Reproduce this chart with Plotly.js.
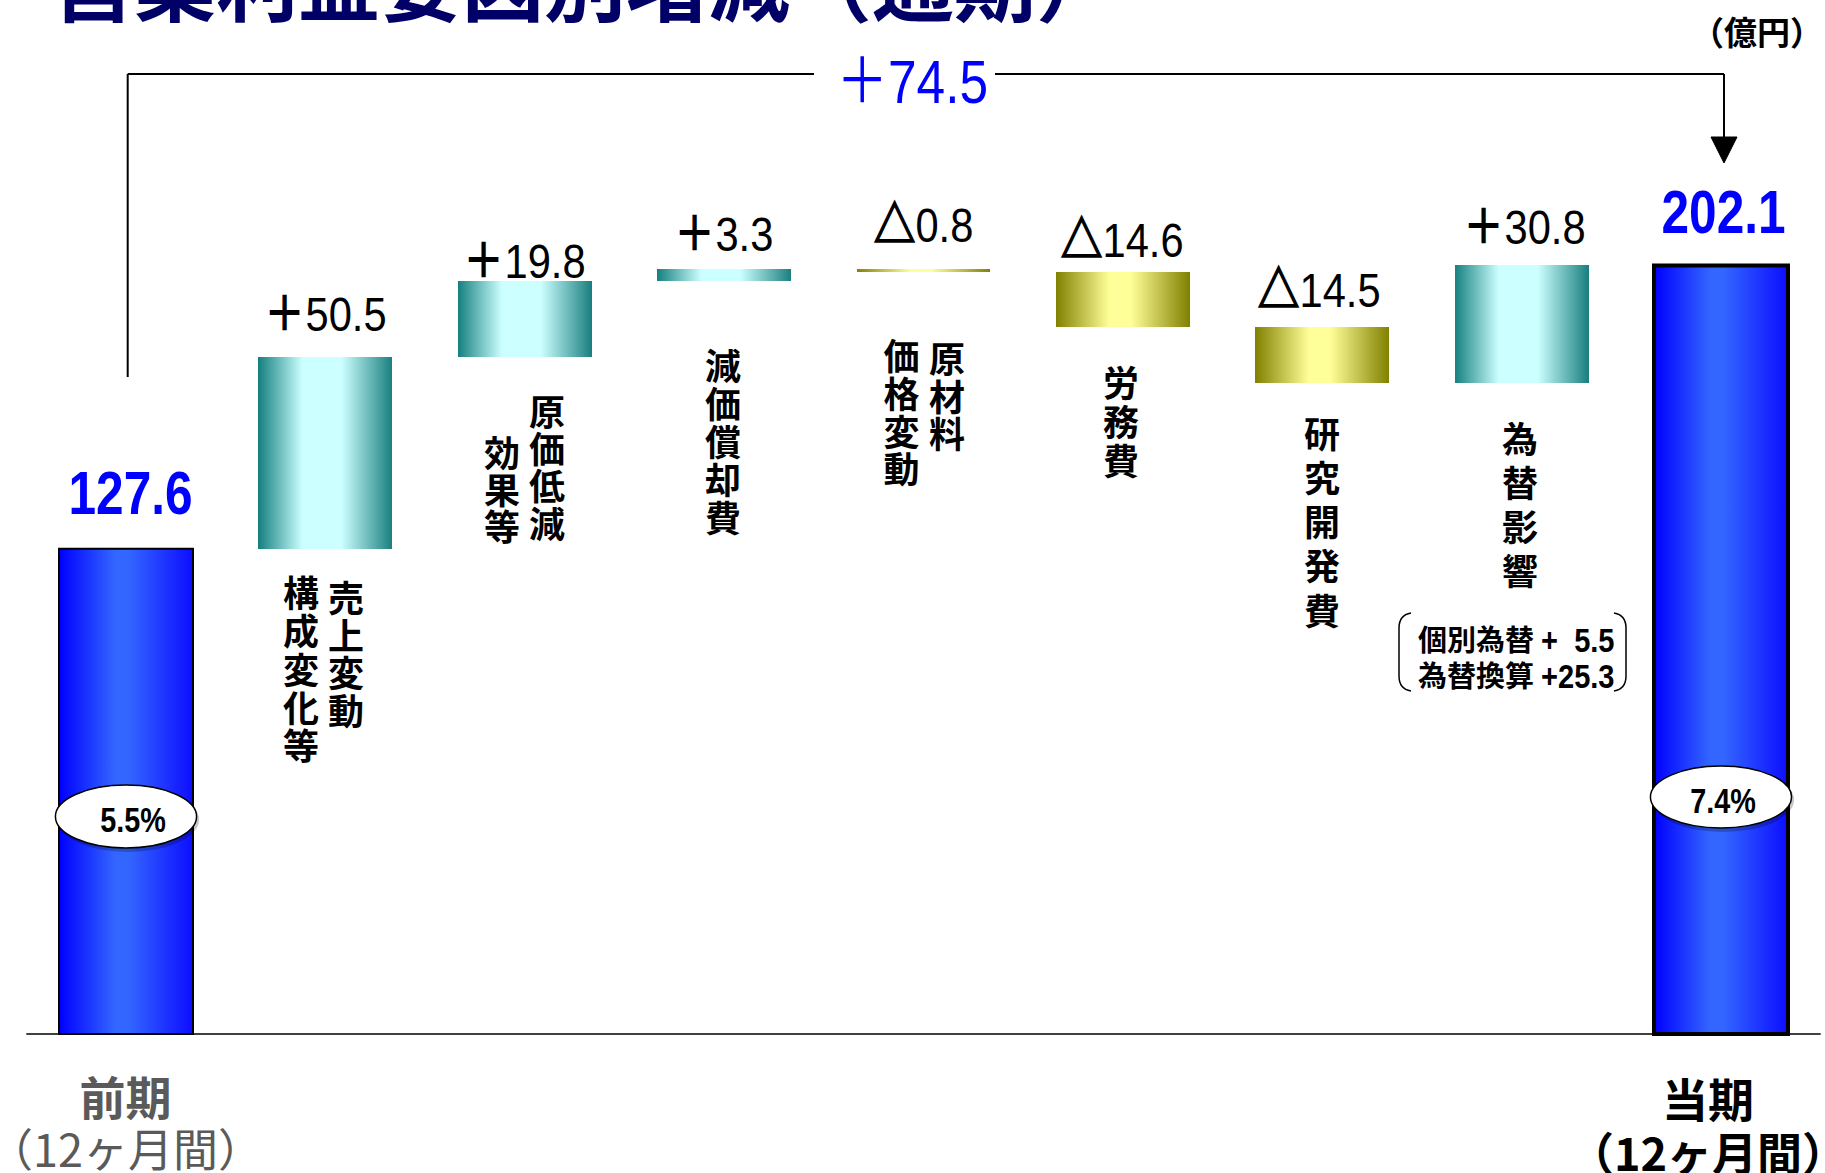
<!DOCTYPE html>
<html>
<head>
<meta charset="utf-8">
<script src="https://cdn.plot.ly/plotly-3.0.1.min.js"></script>
<style>
  html, body { margin: 0; padding: 0; background: #ffffff; }
  #chart { width: 1825px; height: 1173px; }
</style>
</head>
<body>
<div id="chart"></div>
<script>
// ---------------- DATA ----------------
const chartTitle = '営業利益要因別増減（通期）';
const unitLabel = '（億円）';
const categories = ['前期', '売上変動構成変化等', '原価低減効果等', '減価償却費', '原材料価格変動', '労務費', '研究開発費', '為替影響', '当期'];
const categoryColumns = [[], ['売上変動', '構成変化等'], ['原価低減', '効果等'], ['減価償却費'], ['原材料', '価格変動'], ['労務費'], ['研究開発費'], ['為替影響'], []];
const startValue = 127.6;
const deltas = [50.5, 19.8, 3.3, -0.8, -14.6, -14.5, 30.8];
const endValue = 202.1;
const marginRates = [5.5, 7.4];
const periodNames = ['前期', '当期'];
const periodSpan = '（12ヶ月間）';
const fxNames = ['個別為替', '為替換算'];
const fxValues = [5.5, 25.3];

// ---------------- LAYOUT CONSTANTS ----------------
const W = 1825, H = 1173;
const X0_PX = 126, STEP_PX = 199.375;      // bar 0 centre, spacing
const BASE_PX = 1034, PX_PER_UNIT = 3.803;  // zero line, vertical scale
const BAR_W = 0.672;
const ppx = p => p / W;          // pixel -> paper x
const ppy = p => 1 - p / H;      // pixel -> paper y
const dx = p => (p - X0_PX) / STEP_PX; // pixel -> data x

const NUM = '"Liberation Sans", Arimo, "Noto Sans CJK JP", sans-serif';
const CJK = '"Noto Sans CJK JP", "Noto Sans CJK SC", sans-serif';
const COL_FONT = 36;  // vertical category label font size

const valueLabelLift = [56, 43, 20, 35, 44, 32, 37, 38, 54];
const valueLabelNudge = [4.5, 0, -1, -1, 0, -1, -3, 2, 2];
// vertical label columns: [x centre px, first glyph top px, pitch px]
const columnPos = [[], [[346, 583, 37.7], [301, 578, 38.3]], [[547, 397, 37.3], [502, 438.5, 37]], [[723, 350.7, 38]],
  [[947, 344, 37.9], [901.6, 340.8, 37.9]], [[1121, 368, 39]], [[1322, 419, 44.25]], [[1520, 424, 44]], []];

// ---------------- DERIVED ----------------
const bases = [];
let run = startValue;
deltas.forEach(d => { bases.push(run); run = Math.round((run + d) * 10) / 10; });
const tops = [startValue].concat(deltas.map((d, i) => Math.max(bases[i], bases[i] + d))).concat([endValue]);
const incIdx = [], decIdx = [];
deltas.forEach((d, i) => (d >= 0 ? incIdx : decIdx).push(i));

const data = [
  { type: 'bar', x: [0, categories.length - 1], y: [startValue, endValue], width: BAR_W,
    marker: { color: '#2050ff', line: { color: '#000000', width: [2, 4] } }, hoverinfo: 'skip' },
  { type: 'bar', x: incIdx.map(i => i + 1), y: incIdx.map(i => deltas[i]), base: incIdx.map(i => bases[i]), width: BAR_W,
    marker: { color: '#7fd0d0', line: { width: 0 } }, hoverinfo: 'skip' },
  { type: 'bar', x: decIdx.map(i => i + 1), y: decIdx.map(i => deltas[i]), base: decIdx.map(i => bases[i]), width: BAR_W,
    marker: { color: '#d0d060', line: { width: 0 } }, hoverinfo: 'skip' }
];

const annotations = [];
const shapes = [];
const condenseList = [];   // numeric annotations drawn narrow
const columnList = [];     // vertical-writing annotations
function addAnn(a, origin, factor) {
  if (origin) condenseList.push({ idx: annotations.length, origin: origin, factor: factor });
  annotations.push(Object.assign({ showarrow: false }, a));
}
const span = (t, size) => '<span style="font-size:' + size + 'px">' + t + '</span>';

// title
addAnn({ xref: 'paper', yref: 'paper', x: ppx(50), y: ppy(-21), xanchor: 'left', yanchor: 'middle',
  text: chartTitle, font: { family: CJK, size: 82, color: '#000066', weight: 'bold' } });
// unit
addAnn({ xref: 'paper', yref: 'paper', x: ppx(1757), y: ppy(31), xanchor: 'center', yanchor: 'middle',
  text: unitLabel, font: { family: CJK, size: 33, color: '#000000', weight: 'bold' } });

// value labels
tops.forEach((t, i) => {
  const isTotal = (i === 0 || i === categories.length - 1);
  let txt, font;
  if (isTotal) {
    txt = (i === 0 ? startValue : endValue).toFixed(1);
    font = { family: NUM, size: 62, color: '#0000ff', weight: 'bold' };
  } else {
    const d = deltas[i - 1];
    txt = (d >= 0 ? '<b>＋</b>' : '<span style="stroke:#000000;stroke-width:1.6px"><b>△</b></span>') + Math.abs(d).toFixed(1);
    font = { family: NUM, size: 49, color: '#000000' };
  }
  addAnn({ xref: 'x', yref: 'y', x: i, y: t, xanchor: 'center', yanchor: 'middle',
    yshift: valueLabelLift[i], xshift: valueLabelNudge[i], text: txt, font: font }, 'center', isTotal ? 0.8 : 0.85);
});

// total change label
addAnn({ xref: 'paper', yref: 'paper', x: ppx(912), y: ppy(81.5), xanchor: 'center', yanchor: 'middle',
  text: '＋' + (endValue - startValue).toFixed(1), font: { family: NUM, size: 62, color: '#0000ff' } }, 'center', 0.83);

// vertical category labels (one text per column, written vertically)
categoryColumns.forEach((cols, i) => {
  cols.forEach((col, c) => {
    const [xc, top, pitch] = columnPos[i][c];
    columnList.push({ idx: annotations.length, xc: xc, top: top, pitch: pitch });
    addAnn({ xref: 'paper', yref: 'paper', x: ppx(xc), y: ppy(top), xanchor: 'center', yanchor: 'top',
      text: col, font: { family: CJK, size: COL_FONT, color: '#000000', weight: 'bold' } });
  });
});

// fx breakdown (two lines)
const fxMid = 656;
const fxStr = fxValues.map(v => v.toFixed(1));
const fxLen = Math.max(...fxStr.map(s => s.length));
addAnn({ xref: 'paper', yref: 'paper', x: ppx(1416), y: ppy(fxMid), xanchor: 'left', yanchor: 'middle', align: 'left',
  text: fxNames.map(n => span(n, 29)).join('<br>'), font: { family: CJK, size: 27.7, color: '#000000', weight: 'bold' } });
addAnn({ xref: 'paper', yref: 'paper', x: ppx(1617), y: ppy(fxMid + 2), xanchor: 'right', yanchor: 'middle', align: 'right',
  text: fxStr.map(s => span('+' + '\u00a0'.repeat(2 * (fxLen - s.length)) + s, 33)).join('<br>'),
  font: { family: NUM, size: 27.7, color: '#000000', weight: 'bold' } }, 'right', 0.88);
// brackets
shapes.push({ type: 'path', xref: 'paper', yref: 'paper', line: { color: '#000000', width: 1.5 },
  path: `M ${ppx(1411)},${ppy(613)} Q ${ppx(1399)},${ppy(615)} ${ppx(1399)},${ppy(628)} L ${ppx(1399)},${ppy(676)} Q ${ppx(1399)},${ppy(689)} ${ppx(1411)},${ppy(691)}` });
shapes.push({ type: 'path', xref: 'paper', yref: 'paper', line: { color: '#000000', width: 1.5 },
  path: `M ${ppx(1614)},${ppy(613)} Q ${ppx(1626)},${ppy(615)} ${ppx(1626)},${ppy(628)} L ${ppx(1626)},${ppy(676)} Q ${ppx(1626)},${ppy(689)} ${ppx(1614)},${ppy(691)}` });

// period labels (name + span, two lines)
const periodX = [125, 1708];
const periodMid = [1121, 1124];
const periodLine = [40, 41.5];
const periodColor = ['#5a5a5a', '#000000'];
periodNames.forEach((n, k) => {
  const sub = k ? '<b>' + periodSpan + '</b>' : periodSpan;
  addAnn({ xref: 'paper', yref: 'paper', x: ppx(periodX[k]), y: ppy(periodMid[k]), xanchor: 'center', yanchor: 'middle', align: 'center',
    text: span('<b>' + n + '</b>', 46) + '<br>' + span(sub, 45),
    font: { family: CJK, size: periodLine[k], color: periodColor[k] } });
});

// margin ovals
const ovalY = [[785, 848], [766, 828]];
const ovalIdx = [0, categories.length - 1];
const ovalTextNudge = [6.5, 1.5];
marginRates.forEach((r, k) => {
  const xi = ovalIdx[k];
  const hw = 0.354;
  shapes.push({ type: 'circle', xref: 'x', yref: 'paper', x0: xi - hw + dx(X0_PX + 1.5), x1: xi + hw + dx(X0_PX + 2.5),
    y0: ppy(ovalY[k][1] + 4), y1: ppy(ovalY[k][0] + 2), fillcolor: 'rgba(0,0,0,0.22)', line: { width: 0 } });
  shapes.push({ type: 'circle', xref: 'x', yref: 'paper', x0: xi - hw, x1: xi + hw,
    y0: ppy(ovalY[k][1]), y1: ppy(ovalY[k][0]), fillcolor: '#ffffff', line: { color: '#000000', width: 1.5 } });
  addAnn({ xref: 'x', yref: 'paper', x: xi, xshift: ovalTextNudge[k], y: ppy((ovalY[k][0] + ovalY[k][1]) / 2 + 3),
    xanchor: 'center', yanchor: 'middle', text: r.toFixed(1) + '%',
    font: { family: NUM, size: 36, color: '#000000', weight: 'bold' } }, 'center', 0.8);
});

// baseline
shapes.push({ type: 'line', xref: 'x', yref: 'y', x0: -0.5, x1: categories.length - 0.5, y0: 0, y1: 0,
  line: { color: '#404040', width: 2 }, layer: 'below' });

// bracket connector for total change
const bracketY = 74;
shapes.push({ type: 'line', xref: 'x', yref: 'paper', x0: dx(127.7), x1: dx(127.7), y0: ppy(bracketY), y1: ppy(377), line: { color: '#000000', width: 2 } });
shapes.push({ type: 'line', xref: 'x', yref: 'paper', x0: dx(127.7), x1: dx(814), y0: ppy(bracketY), y1: ppy(bracketY), line: { color: '#000000', width: 2 } });
shapes.push({ type: 'line', xref: 'x', yref: 'paper', x0: dx(995), x1: dx(1724), y0: ppy(bracketY), y1: ppy(bracketY), line: { color: '#000000', width: 2 } });
shapes.push({ type: 'line', xref: 'x', yref: 'paper', x0: dx(1724), x1: dx(1724), y0: ppy(bracketY), y1: ppy(140), line: { color: '#000000', width: 2 } });
shapes.push({ type: 'path', xref: 'x', yref: 'paper', fillcolor: '#000000', line: { color: '#000000', width: 1 },
  path: `M ${dx(1711)},${ppy(137)} L ${dx(1737)},${ppy(137)} L ${dx(1724)},${ppy(163)} Z` });

const layout = {
  width: W, height: H, autosize: false,
  margin: { l: 0, r: 0, t: 0, b: 0, pad: 0 },
  paper_bgcolor: '#ffffff', plot_bgcolor: '#ffffff',
  showlegend: false, barmode: 'overlay', bargap: 0,
  xaxis: { range: [-X0_PX / STEP_PX, (W - X0_PX) / STEP_PX], visible: false, fixedrange: true },
  yaxis: { range: [-(H - BASE_PX) / PX_PER_UNIT, BASE_PX / PX_PER_UNIT], visible: false, fixedrange: true },
  annotations: annotations,
  shapes: shapes
};

const gd = document.getElementById('chart');
Plotly.newPlot(gd, data, layout, { displayModeBar: false, staticPlot: true }).then(() => {
  const NS = 'http://www.w3.org/2000/svg';
  const svg = gd.querySelector('svg.main-svg');
  let defs = svg.querySelector('defs');
  if (!defs) { defs = document.createElementNS(NS, 'defs'); svg.insertBefore(defs, svg.firstChild); }
  function addGrad(id, stops) {
    const g = document.createElementNS(NS, 'linearGradient');
    g.setAttribute('id', id);
    g.setAttribute('x1', '0'); g.setAttribute('y1', '0'); g.setAttribute('x2', '1'); g.setAttribute('y2', '0');
    stops.forEach(([o, c]) => {
      const s = document.createElementNS(NS, 'stop');
      s.setAttribute('offset', o); s.setAttribute('stop-color', c);
      g.appendChild(s);
    });
    defs.appendChild(g);
  }
  addGrad('gBlue', [[0, '#0000ff'], [0.42, '#3366ff'], [0.52, '#3366ff'], [1, '#0d0dff']]);
  addGrad('gTeal', [[0, '#157f7f'], [0.33, '#ccffff'], [0.62, '#ccffff'], [1, '#1a7f7f']]);
  addGrad('gOlive', [[0, '#808000'], [0.4, '#ffff99'], [0.56, '#ffff99'], [1, '#808000']]);
  const ids = ['gBlue', 'gTeal', 'gOlive'];
  gd.querySelectorAll('.barlayer .trace').forEach((t, i) => {
    t.querySelectorAll('path').forEach(p => { p.style.fill = 'url(#' + ids[i] + ')'; });
  });

  // narrow numeric labels
  condenseList.forEach(c => {
    const g = gd.querySelector('.annotation[data-index="' + c.idx + '"]');
    if (!g) return;
    const t = g.querySelector('text');
    t.style.transformBox = 'fill-box';
    t.style.transformOrigin = c.origin + ' center';
    t.style.transform = 'scaleX(' + c.factor + ')';
  });

  // vertical (tategaki) category labels
  columnList.forEach(c => {
    const g = gd.querySelector('.annotation[data-index="' + c.idx + '"]');
    if (!g) return;
    const t = g.querySelector('text');
    t.style.writingMode = 'vertical-rl';
    t.style.letterSpacing = (c.pitch - COL_FONT) + 'px';
    t.setAttribute('text-anchor', 'start');
    const r = t.getBoundingClientRect();
    const sx = c.xc - (r.left + r.width / 2);
    const sy = (c.top - 3) - r.top;
    t.setAttribute('transform', 'translate(' + sx + ',' + sy + ')');
  });
});
</script>
</body>
</html>
